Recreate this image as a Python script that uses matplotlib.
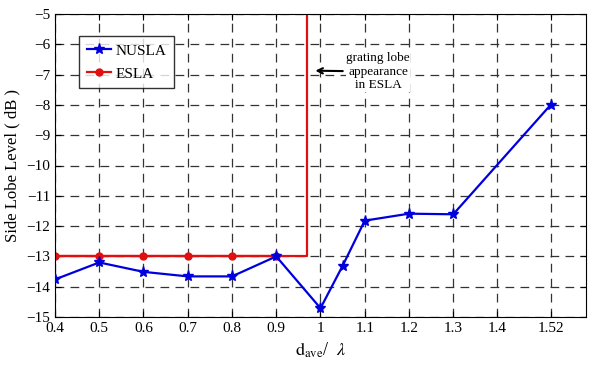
import matplotlib
matplotlib.use('Agg')
import matplotlib.pyplot as plt

plt.rcParams['font.family'] = ['Liberation Serif', 'DejaVu Serif']
plt.rcParams['mathtext.fontset'] = 'stix'

# data
nusla_x = [0.4, 0.5, 0.6, 0.7, 0.8, 0.9, 1.0, 1.05, 1.1, 1.2, 1.3, 1.52]
nusla_y = [-13.76, -13.2, -13.51, -13.66, -13.66, -13.0, -14.71, -13.31, -11.82, -11.59, -11.61, -8.0]

esla_x = [0.4, 0.5, 0.6, 0.7, 0.8, 0.9]
esla_y = [-13, -13, -13, -13, -13, -13]
esla_jump_x = 0.97   # where the grating lobe shows up
esla_top = -5

xticks = [0.4, 0.5, 0.6, 0.7, 0.8, 0.9, 1.0, 1.1, 1.2, 1.3, 1.4, 1.52]
xticklabels = ['0.4', '0.5', '0.6', '0.7', '0.8', '0.9', '1', '1.1', '1.2', '1.3', '1.4', '1.52']
yticks = list(range(-15, -4))

fig = plt.figure(figsize=(6, 3.68), dpi=100)
ax = fig.add_axes([55/600, 1 - 317/368, (586-55)/600, (317-14)/368])

ax.plot(nusla_x, nusla_y, color='#0000dd', lw=1.6, marker='*', ms=8, label='NUSLA', zorder=3)
# ESLA: flat line, then jumps up past the top
ax.plot(esla_x + [esla_jump_x, esla_jump_x], esla_y + [esla_y[-1], esla_top + 1],
        color='#e01010', lw=1.6, zorder=2)
ax.plot(esla_x, esla_y, color='#e01010', lw=1.6, marker='o', ms=5, label='ESLA', zorder=2)

ax.set_xlim(0.4, 1.6)
ax.set_ylim(-15, -5)
ax.set_xticks(xticks)
ax.set_xticklabels(xticklabels)
ax.set_yticks(yticks)
ax.tick_params(direction='in', top=True, right=True, labelsize=11, length=4)
ax.grid(True, color='#333333', linestyle=(0, (7, 5)), lw=0.9)

ax.set_xlabel(r'$\mathrm{d_{ave}}$/  $\lambda$', fontsize=13)
ax.set_ylabel('Side Lobe Level ( dB )', fontsize=12)

ax.annotate('grating lobe\nappearance\nin ESLA', xy=(0.982, -6.87), xytext=(1.13, -6.9),
            ha='center', va='center', fontsize=9.5, linespacing=1.2,
            arrowprops=dict(arrowstyle='->', color='black', lw=1.5),
            bbox=dict(fc='white', ec='none', pad=0.5))

leg = ax.legend(loc='upper left', bbox_to_anchor=(0.045, 0.926), fancybox=False,
                edgecolor='black', fontsize=11, handlelength=1.6, handletextpad=0.3,
                borderpad=0.5, borderaxespad=0.0, labelspacing=0.6)
leg.get_frame().set_linewidth(1.0)

fig.savefig('out.png', dpi=100)
